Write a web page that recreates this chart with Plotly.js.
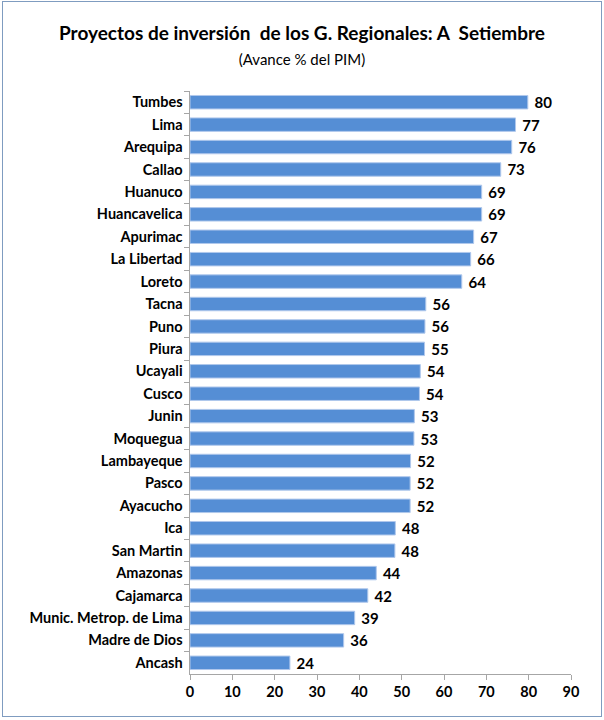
<!DOCTYPE html>
<html>
<head>
<meta charset="utf-8">
<script src="https://cdn.plot.ly/plotly-3.0.1.min.js"></script>
<style>
html,body{margin:0;padding:0;background:#fff;}
#wrap{position:absolute;left:2px;top:1px;width:600px;height:716px;border:1px solid #7f9cc0;box-sizing:border-box;}
#chart{position:absolute;left:0;top:0;width:604px;height:720px;}
</style>
</head>
<body>
<div id="chart"></div>
<div id="wrap"></div>
<script>
const regions = ["Tumbes","Lima","Arequipa","Callao","Huanuco","Huancavelica","Apurimac","La Libertad","Loreto","Tacna","Puno","Piura","Ucayali","Cusco","Junin","Moquegua","Lambayeque","Pasco","Ayacucho","Ica","San Martin","Amazonas","Cajamarca","Munic. Metrop. de Lima","Madre de Dios","Ancash"];
const avance = [79.8,76.9,76.0,73.4,68.9,68.9,67.0,66.3,64.2,55.7,55.5,55.4,54.4,54.2,53.0,52.9,52.1,52.0,52.0,48.5,48.4,44.0,42.0,38.9,36.3,23.6];
const labels = ["80","77","76","73","69","69","67","66","64","56","56","55","54","54","53","53","52","52","52","48","48","44","42","39","36","24"];
const xTicks = [0,10,20,30,40,50,60,70,80,90];

const FONT = "Lato, 'Open Sans', sans-serif";

Plotly.newPlot("chart", [{
  type: "bar",
  orientation: "h",
  y: regions,
  x: avance,
  text: labels,
  texttemplate: " %{text}",
  textposition: "outside",
  constraintext: "none",
  cliponaxis: false,
  textfont: {family: FONT, size: 15, color: "#000", weight: 700},
  marker: {color: "#558ed5", line: {color: "#b0c8ec", width: 1}},
  hoverinfo: "none"
}], {
  width: 604, height: 720,
  margin: {l: 190, r: 33, t: 91, b: 46},
  paper_bgcolor: "#fff", plot_bgcolor: "#fff",
  bargap: 0.4,
  showlegend: false,
  font: {family: FONT, color: "#000"},
  title: {text: "<b>Proyectos de inversión  de los G. Regionales: A  Setiembre</b><br><span style='font-size:15px;font-weight:normal'>(Avance % del PIM)</span>",
          x: 0.5, xref: "container", xanchor: "center", yref: "container", y: 0.944, yanchor: "top",
          font: {family: FONT, size: 19, color: "#000"}},
  xaxis: {range: [0, 90], tickvals: xTicks, ticktext: xTicks.map(String), showgrid: false, zeroline: false,
          showline: true, linecolor: "#a6a6a6", linewidth: 1, ticks: "outside", ticklen: 5, tickcolor: "#a6a6a6",
          tickfont: {family: FONT, size: 14.5, color: "#000", weight: 700}},
  yaxis: {autorange: "reversed", showgrid: false, zeroline: false, showline: true, linecolor: "#a6a6a6", linewidth: 1,
          ticks: "outside", tickson: "boundaries", ticklen: 5, tickcolor: "#a6a6a6", ticksuffix: " ",
          tickfont: {family: FONT, size: 14.5, color: "#000", weight: 700}}
}, {displayModeBar: false, staticPlot: true});
</script>
</body>
</html>
